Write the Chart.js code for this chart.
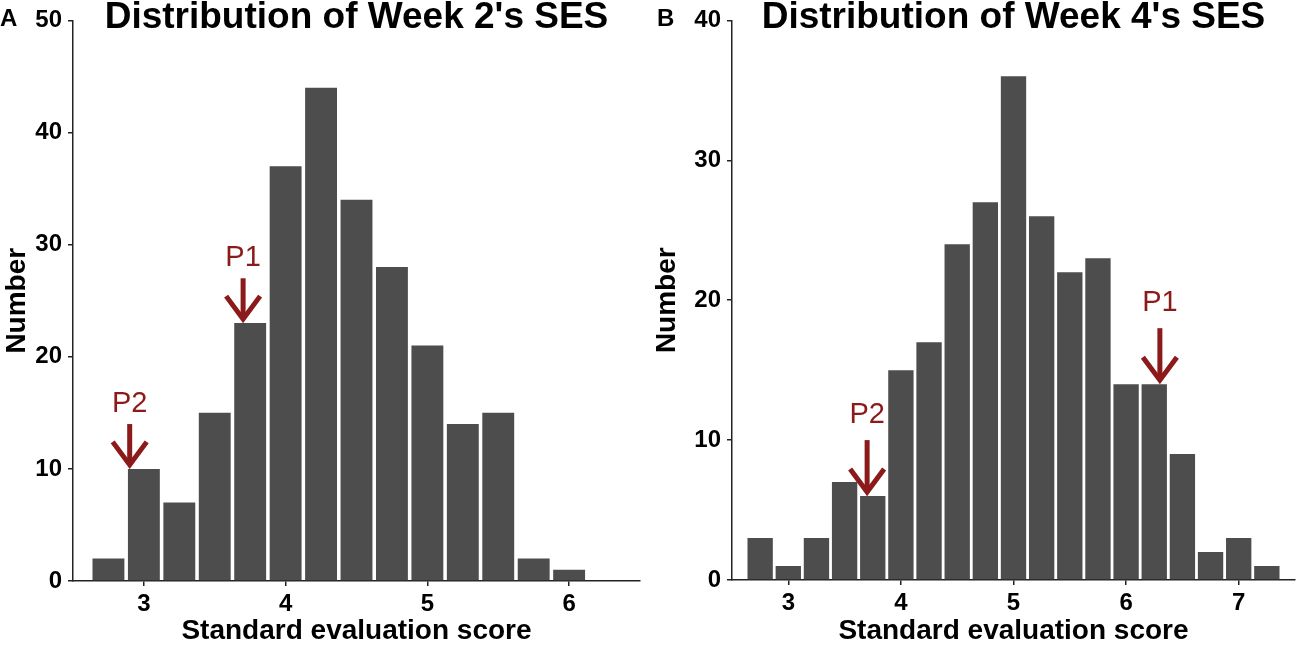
<!DOCTYPE html>
<html>
<head>
<meta charset="utf-8">
<script src="https://cdn.jsdelivr.net/npm/chart.js@4.4.1/dist/chart.umd.min.js"></script>
<style>
  body { margin: 0; background: #fff; }
  #wrap { position: relative; width: 1300px; height: 648px; overflow: hidden;
          font-family: 'Liberation Sans', Arial, sans-serif; color: #000; }
  canvas { position: absolute; top: 0; }
  .title { position: absolute; top: -3px; font-size: 37px; font-weight: bold;
           line-height: 1; text-align: center; white-space: nowrap; }
  .tag { position: absolute; top: 6px; font-size: 24px; font-weight: bold; line-height: 1; }
</style>
</head>
<body>
<div id="wrap">
  <canvas id="week2" width="650" height="648" style="left:0"></canvas>
  <canvas id="week4" width="650" height="648" style="left:650px"></canvas>
  <div class="tag" style="left:0">A</div>
  <div class="tag" style="left:657px">B</div>
  <div class="title" style="left:73px;width:567px">Distribution of Week 2's SES</div>
  <div class="title" style="left:732px;width:563px">Distribution of Week 4's SES</div>
</div>
<script>
// Week 2 histogram (bin centres, counts)
const week2Bins = [2.75, 3.0, 3.25, 3.5, 3.75, 4.0, 4.25, 4.5, 4.75, 5.0, 5.25, 5.5, 5.75, 6.0];
const week2Counts = [2, 10, 7, 15, 23, 37, 44, 34, 28, 21, 14, 15, 2, 1];
const week2XTicks = [3, 4, 5, 6];
const week2YTicks = [0, 10, 20, 30, 40, 50];
const week2Marks = ['P2', 'P1'];
const week2MarkX = [2.9, 3.7];
const week2MarkY = [10, 23];

// Week 4 histogram
const week4Bins = [2.75, 3.0, 3.25, 3.5, 3.75, 4.0, 4.25, 4.5, 4.75, 5.0,
                   5.25, 5.5, 5.75, 6.0, 6.25, 6.5, 6.75, 7.0, 7.25];
const week4Counts = [3, 1, 3, 7, 6, 15, 17, 24, 27, 36, 26, 22, 23, 14, 14, 9, 2, 3, 1];
const week4XTicks = [3, 4, 5, 6, 7];
const week4YTicks = [0, 10, 20, 30, 40];
const week4Marks = ['P2', 'P1'];
const week4MarkX = [3.7, 6.3];
const week4MarkY = [6, 14];

const FONT = "'Liberation Sans', Arial, sans-serif";
const BAR_GREY = '#4d4d4d';
const ARROW_RED = '#8b1a1a';

// draws the red "P" arrows pointing down at a bar top
const arrowPlugin = {
  id: 'pointArrows',
  afterDatasetsDraw(chart, args, opts) {
    const {ctx, scales: {x, y}} = chart;
    ctx.save();
    ctx.strokeStyle = ARROW_RED;
    ctx.fillStyle = ARROW_RED;
    ctx.lineWidth = 5;
    ctx.lineCap = 'butt';
    ctx.lineJoin = 'miter';
    opts.labels.forEach((label, i) => {
      const px = x.getPixelForValue(opts.xs[i]);
      const tip = y.getPixelForValue(opts.ys[i]);
      const tail = y.getPixelForValue(opts.ys[i] + 4);
      ctx.beginPath();
      ctx.moveTo(px, tail);
      ctx.lineTo(px, tip - 4);
      ctx.stroke();
      ctx.beginPath();
      ctx.moveTo(px - 17, tip - 27);
      ctx.lineTo(px, tip - 4);
      ctx.lineTo(px + 17, tip - 27);
      ctx.stroke();
      ctx.font = '29px ' + FONT;
      ctx.textAlign = 'center';
      ctx.textBaseline = 'middle';
      ctx.fillText(label, px, y.getPixelForValue(opts.ys[i] + 5.8));
    });
    ctx.restore();
  }
};

function makeHistogram(canvasId, bins, counts, cfg) {
  const tickFont = {family: FONT, size: 24, weight: 'bold'};
  const titleFont = {family: FONT, size: 28, weight: 'bold'};
  const ctx = document.getElementById(canvasId).getContext('2d');
  return new Chart(ctx, {
    type: 'bar',
    data: {
      datasets: [{
        data: bins.map((b, i) => ({x: b, y: counts[i]})),
        backgroundColor: BAR_GREY,
        borderWidth: 0,
        barPercentage: 0.9,
        categoryPercentage: 1.0
      }]
    },
    plugins: [arrowPlugin],
    options: {
      responsive: false,
      animation: false,
      events: [],
      layout: {padding: cfg.padding},
      plugins: {
        legend: {display: false},
        tooltip: {enabled: false},
        pointArrows: {labels: cfg.marks, xs: cfg.markX, ys: cfg.markY}
      },
      scales: {
        x: {
          type: 'linear',
          min: cfg.xMin,
          max: cfg.xMax,
          offset: false,
          afterBuildTicks: s => { s.ticks = cfg.xTicks.map(v => ({value: v})); },
          afterFit: s => { s.height = cfg.xHeight; },
          grid: {drawOnChartArea: false, offset: false, tickLength: 5, color: '#222', lineWidth: 1.5},
          border: {color: '#222', width: 1.5},
          ticks: {color: '#000', font: tickFont, padding: 4, maxRotation: 0, autoSkip: false},
          title: {display: true, text: 'Standard evaluation score', color: '#000', font: titleFont, padding: 0}
        },
        y: {
          min: 0,
          max: cfg.yMax,
          afterBuildTicks: s => { s.ticks = cfg.yTicks.map(v => ({value: v})); },
          afterFit: s => { s.width = cfg.yWidth; },
          grid: {drawOnChartArea: false, tickLength: 5, color: '#222', lineWidth: 1.5},
          border: {color: '#222', width: 1.5},
          ticks: {color: '#000', font: tickFont, padding: 6},
          title: {display: true, text: 'Number', color: '#000', font: titleFont, padding: 0}
        }
      }
    }
  });
}

makeHistogram('week2', week2Bins, week2Counts, {
  xMin: 2.5, xMax: 6.5, yMax: 50,
  xTicks: week2XTicks, yTicks: week2YTicks,
  marks: week2Marks, markX: week2MarkX, markY: week2MarkY,
  padding: {top: 18, right: 10, left: 0, bottom: 0},
  yWidth: 73, xHeight: 67
});

makeHistogram('week4', week4Bins, week4Counts, {
  xMin: 2.5, xMax: 7.5, yMax: 40,
  xTicks: week4XTicks, yTicks: week4YTicks,
  marks: week4Marks, markX: week4MarkX, markY: week4MarkY,
  padding: {top: 18, right: 5, left: 0, bottom: 0},
  yWidth: 82, xHeight: 68
});
</script>
</body>
</html>
